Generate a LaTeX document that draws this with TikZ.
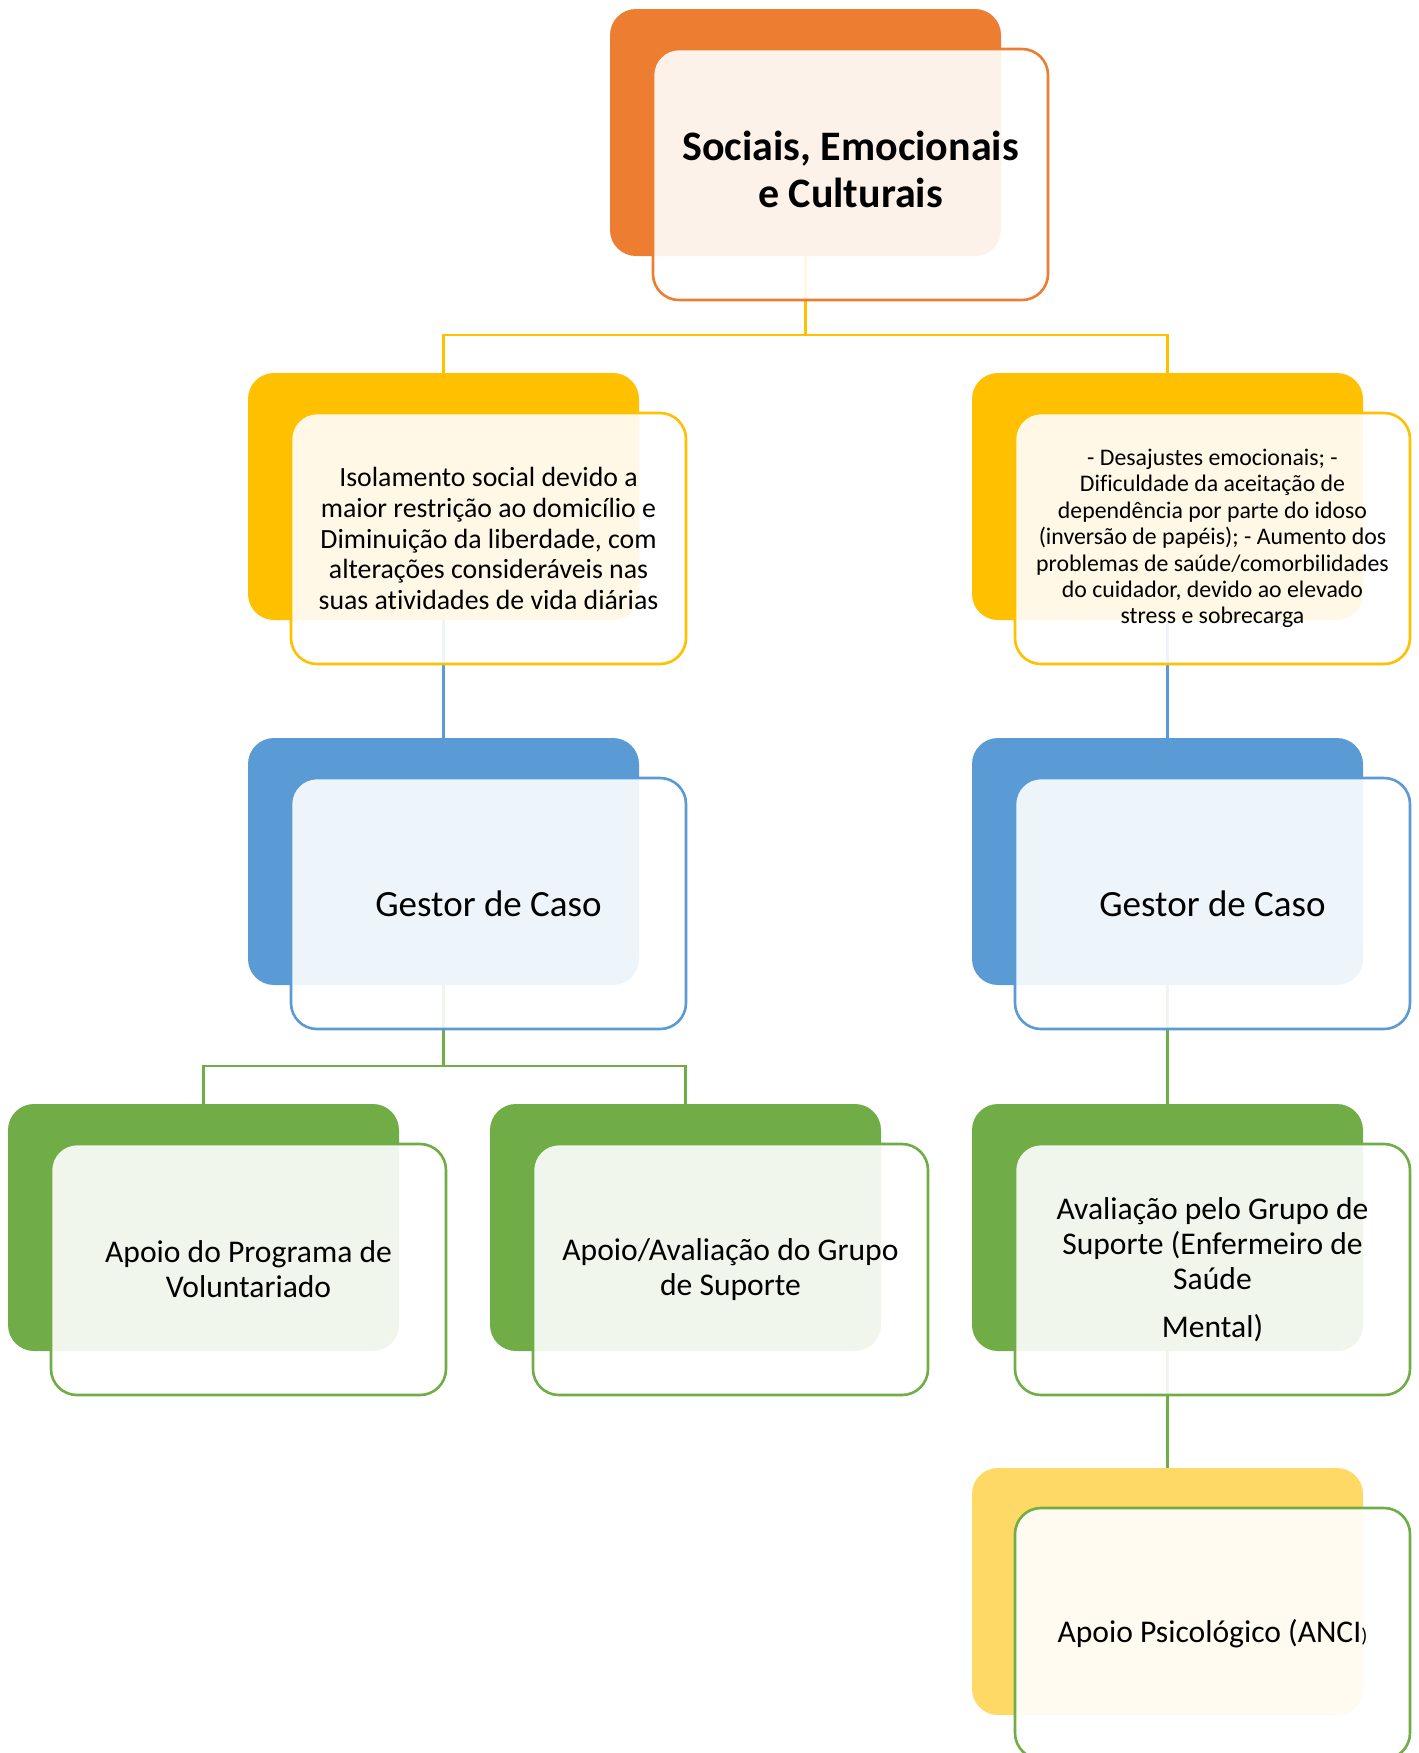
\documentclass[tikz,border=0pt]{standalone}
\usepackage{fontspec}
\setmainfont{Carlito}[Ligatures=NoCommon]
\definecolor{corange}{HTML}{ED7D31}
\definecolor{cyellow}{HTML}{FFC000}
\definecolor{cblue}{HTML}{5B9BD5}
\definecolor{cgreen}{HTML}{70AD47}
\definecolor{clight}{HTML}{FFD966}
\tikzset{
  backbox/.style={rectangle, rounded corners=13pt, minimum width=195.5pt, minimum height=123.5pt, fill=#1, inner sep=0pt},
  frontbox/.style={rectangle, rounded corners=13pt, minimum width=197.5pt, minimum height=125.5pt, draw=#1, line width=1.3pt, fill=white, fill opacity=0.9, text opacity=1, draw opacity=1, align=center, inner sep=0pt, text=black},
  conn/.style={draw=#1, line width=1.3pt},
  ftop/.style={font=\fontsize{21}{23.5}\selectfont\bfseries},
  fiso/.style={font=\fontsize{13.9}{15.4}\selectfont},
  fdes/.style={font=\fontsize{11.9}{13.2}\selectfont},
  fges/.style={font=\fontsize{18.5}{21}\selectfont},
  fapo/.style={font=\fontsize{15.8}{17.5}\selectfont}
}
\begin{document}
\begin{tikzpicture}[x=0.5pt,y=-0.5pt]
\useasboundingbox (0,0) rectangle (1419,1753);
\clip (0,0) rectangle (1419,1753);
% back boxes
\node[backbox=corange] (b0) at (805.5,132.5) {};
\node[backbox=cyellow] (b1) at (443.5,496.5) {};
\node[backbox=cyellow] (b2) at (1167.5,496.5) {};
\node[backbox=cblue] (b3) at (443.5,861.5) {};
\node[backbox=cblue] (b4) at (1167.5,861.5) {};
\node[backbox=cgreen] (b5) at (203.5,1227.5) {};
\node[backbox=cgreen] (b6) at (685.5,1227.5) {};
\node[backbox=cgreen] (b7) at (1167.5,1227.5) {};
\node[backbox=clight] (b8) at (1167.5,1591.5) {};
% connectors
\coordinate (j0) at (805.5,335);
\coordinate (j1) at (443.5,1066);
\draw[conn=cyellow] (b0.south) -- (j0);
\draw[conn=cyellow] (b1.north) |- (j0) -| (b2.north);
\draw[conn=cblue] (b1.south) -- (b3.north);
\draw[conn=cblue] (b2.south) -- (b4.north);
\draw[conn=cgreen] (b3.south) -- (j1);
\draw[conn=cgreen] (b5.north) |- (j1) -| (b6.north);
\draw[conn=cgreen] (b4.south) -- (b7.north);
\draw[conn=cgreen] (b7.south) -- (b8.north);
% front boxes
\node[frontbox=corange, ftop] (f0) at (850.5,174.5) {\raisebox{0.6pt}{\begin{tabular}{@{}c@{}}Sociais, Emocionais\\e Culturais\end{tabular}}};
\node[frontbox=cyellow, fiso] (f1) at (488.5,538.5) {Isolamento social devido a\\maior restrição ao domicílio e\\Diminuição da liberdade, com\\alterações consideráveis nas\\suas atividades de vida diárias};
\node[frontbox=cyellow, fdes] (f2) at (1212.5,538.5) {- Desajustes emocionais; -\\Dificuldade da aceitação de\\dependência por parte do idoso\\(inversão de papéis); - Aumento dos\\problemas de saúde/comorbilidades\\do cuidador, devido ao elevado\\stress e sobrecarga};
\node[frontbox=cblue, fges] (f3) at (488.5,903.5) {Gestor de Caso};
\node[frontbox=cblue, fges] (f4) at (1212.5,903.5) {Gestor de Caso};
\node[frontbox=cgreen, fapo] (f5) at (248.5,1269.5) {Apoio do Programa de\\Voluntariado};
\node[frontbox=cgreen, fapo] (f6) at (730.5,1269.5) {Apoio/Avaliação do Grupo\\de Suporte};
\node[frontbox=cgreen, fapo] (f7) at (1212.5,1269.5) {Avaliação pelo Grupo de\\Suporte (Enfermeiro de\\Saúde\\[6.5pt]Mental)};
\node[frontbox=cgreen, fapo] (f8) at (1212.5,1633.5) {Apoio Psicológico (ANCI{\fontsize{10}{10}\selectfont )}};
\end{tikzpicture}
\end{document}
